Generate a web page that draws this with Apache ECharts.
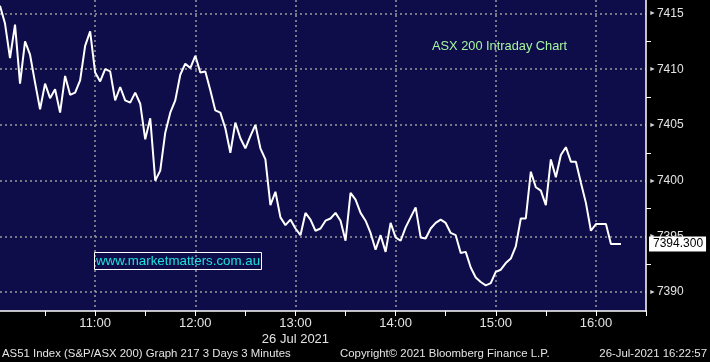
<!DOCTYPE html>
<html><head><meta charset="utf-8">
<script src="https://cdn.jsdelivr.net/npm/echarts@6/dist/echarts.min.js"></script>
<style>html,body{margin:0;padding:0;background:#000;}#c{width:710px;height:362px;}</style>
</head><body><div id="c"></div>
<script>
// ---- data ----
const START_MIN = 10 * 60 + 3;   // first bar 10:03
const STEP_MIN = 3;              // 3-minute bars
const END_MIN = 16 * 60 + 30;    // axis end 16:30
const TIMES = [];
for (let m = START_MIN; m <= END_MIN; m += STEP_MIN) {
  TIMES.push(String(Math.floor(m / 60)).padStart(2, '0') + ':' + String(m % 60).padStart(2, '0'));
}
const HOUR_LABELS = ['11:00', '12:00', '13:00', '14:00', '15:00', '16:00'];
const DATE_LABEL = '26 Jul 2021';
const Y_TICKS = [7390, 7395, 7400, 7405, 7410, 7415];
const Y_MINOR = [7392.5, 7397.5, 7402.5, 7407.5, 7412.5];
const PRICES = [
  7415.7, 7414.1, 7411.0, 7414.0, 7408.7, 7412.5, 7411.3, 7408.8, 7406.4, 7408.7,
  7407.4, 7408.2, 7406.1, 7409.4, 7407.7, 7407.9, 7409.0, 7412.1, 7413.4, 7409.7,
  7408.9, 7410.0, 7409.8, 7407.2, 7408.4, 7407.2, 7407.0, 7407.9, 7406.9, 7403.7,
  7405.6, 7400.0, 7400.9, 7404.3, 7406.1, 7407.2, 7409.5, 7410.5, 7410.1, 7411.2,
  7409.7, 7409.8, 7408.1, 7406.3, 7406.1, 7404.7, 7402.5, 7405.2, 7403.8, 7402.9,
  7404.0, 7405.0, 7402.9, 7401.9, 7397.8, 7399.0, 7396.7, 7396.0, 7396.5, 7395.7,
  7395.1, 7397.1, 7396.5, 7395.5, 7395.7, 7396.4, 7396.6, 7397.1, 7396.4, 7394.6,
  7398.9, 7398.3, 7397.1, 7396.4, 7395.3, 7393.8, 7395.1, 7393.6, 7396.2, 7394.9,
  7394.6, 7395.8, 7396.7, 7397.6, 7394.9, 7394.8, 7395.7, 7396.2, 7396.5, 7396.2,
  7395.3, 7395.1, 7393.5, 7393.6, 7392.2, 7391.3, 7390.9, 7390.6, 7390.8, 7391.8,
  7392.0, 7392.6, 7393.0, 7394.1, 7396.6, 7396.6, 7400.8, 7399.4, 7399.1, 7397.8,
  7401.9, 7400.3, 7402.3, 7403.0, 7401.7, 7401.7, 7399.8, 7398.0, 7395.5, 7396.1,
  7396.1, 7396.1, 7394.3, 7394.3, 7394.3
];
const LAST = PRICES[PRICES.length - 1];
const TITLE = 'ASX 200 Intraday Chart';
const WATERMARK = 'www.marketmatters.com.au';
const FOOT_LEFT = 'AS51 Index (S&P/ASX 200) Graph 217 3 Days 3 Minutes';
const FOOT_MID = 'Copyright\u00A9 2021 Bloomberg Finance L.P.';
const FOOT_RIGHT = '26-Jul-2021 16:22:57';

// ---- layout ----
const W = 710, H = 362;
const PLOT_RIGHT = 646, PLOT_BOTTOM = 311;
const TICK_TOP_Y = 13.5, TICK_BOTTOM_Y = 292;   // pixel rows of 7415 / 7390
const yTop = Y_TICKS[Y_TICKS.length - 1], yBot = Y_TICKS[0];
const pxPerUnit = (TICK_BOTTOM_Y - TICK_TOP_Y) / (yTop - yBot);
const yMaxA = yTop + TICK_TOP_Y / pxPerUnit;
const yMinA = yBot - (PLOT_BOTTOM - TICK_BOTTOM_Y) / pxPerUnit;
const minTop = Y_MINOR[Y_MINOR.length - 1], minBot = Y_MINOR[0];
const MINOR_TOP_Y = TICK_TOP_Y + (yTop - minTop) * pxPerUnit;
const MINOR_BOTTOM_Y = TICK_BOTTOM_Y - (minBot - yBot) * pxPerUnit;

const FONT = "'Liberation Sans', Arial, sans-serif";
const GRID_LINE = { color: '#9a9a9a', width: 1.5, type: [2, 3] };
const TXT = '#e4e4e4';

const chart = echarts.init(document.getElementById('c'));
chart.setOption({
  backgroundColor: '#000',
  animation: false,
  textStyle: { fontFamily: FONT },
  title: [
    { text: TITLE, left: 432, top: 40, padding: 0,
      textStyle: { color: '#a6f5a0', fontSize: 12.8, fontWeight: 'normal', fontFamily: FONT } },
    { text: WATERMARK, left: 94, top: 252, padding: [3, 2, 2, 2], borderColor: '#ffffff', borderWidth: 1,
      textStyle: { color: '#1fe0e0', fontSize: 13.3, fontWeight: 'normal', fontFamily: FONT } },
    { text: FOOT_LEFT, left: 2, top: 348, padding: 0,
      textStyle: { color: TXT, fontSize: 11.4, fontWeight: 'normal', fontFamily: FONT } },
    { text: FOOT_MID, left: 340, top: 348, padding: 0,
      textStyle: { color: TXT, fontSize: 11.4, fontWeight: 'normal', fontFamily: FONT } },
    { text: FOOT_RIGHT, right: 3, top: 348, padding: 0,
      textStyle: { color: TXT, fontSize: 11.4, fontWeight: 'normal', fontFamily: FONT } }
  ],
  grid: [
    { left: 0, right: W - PLOT_RIGHT, top: 0, bottom: H - PLOT_BOTTOM, show: true,
      backgroundColor: '#0f0d49', borderWidth: 0 },
    { left: 0, right: W - PLOT_RIGHT, top: TICK_TOP_Y, bottom: H - TICK_BOTTOM_Y, show: false },
    { left: 0, right: W - PLOT_RIGHT, top: MINOR_TOP_Y, bottom: H - MINOR_BOTTOM_Y, show: false }
  ],
  xAxis: [
    { type: 'category', gridIndex: 0, data: TIMES, boundaryGap: false,
      axisLine: { onZero: false, lineStyle: { color: '#ffffff', width: 1.5 } },
      axisTick: { interval: (i, v) => v.endsWith(':00') || v.endsWith(':30'), length: 5,
        lineStyle: { color: '#ffffff', width: 1 } },
      axisLabel: { interval: (i, v) => HOUR_LABELS.indexOf(v) >= 0, color: TXT, fontSize: 13,
        margin: 4, lineHeight: 16, fontFamily: FONT,
        formatter: v => v === '13:00' ? v + '\n' + DATE_LABEL : v },
      splitLine: { show: true, interval: (i, v) => HOUR_LABELS.indexOf(v) >= 0, lineStyle: GRID_LINE } },
    { type: 'value', gridIndex: 1, show: false, axisLine: { onZero: false } },
    { type: 'value', gridIndex: 2, show: false, axisLine: { onZero: false } }
  ],
  yAxis: [
    { type: 'value', gridIndex: 0, position: 'right', min: yMinA, max: yMaxA,
      axisLine: { show: true, onZero: false, lineStyle: { color: '#ffffff', width: 1.5 } },
      axisTick: { show: false }, axisLabel: { show: false }, splitLine: { show: false } },
    { type: 'value', gridIndex: 1, position: 'right', min: yBot, max: yTop, interval: 5,
      axisLine: { show: false, onZero: false }, axisTick: { show: false },
      axisLabel: { margin: 3, formatter: v => '{a|\u25BA}{b|' + v + '}',
        rich: { a: { fontSize: 7, color: '#d8d8d8', padding: [0, 1, 0, 0] },
                b: { fontSize: 12, color: TXT, fontFamily: FONT } } },
      splitLine: { show: true, lineStyle: GRID_LINE } },
    { type: 'value', gridIndex: 2, position: 'right', min: minBot, max: minTop, interval: 5,
      axisLine: { show: false, onZero: false },
      axisTick: { show: true, length: 5, lineStyle: { color: '#ffffff', width: 1 } },
      axisLabel: { show: false }, splitLine: { show: false } }
  ],
  series: [{
    type: 'line', xAxisIndex: 0, yAxisIndex: 0, data: PRICES,
    showSymbol: false, symbol: 'none', clip: false,
    lineStyle: { color: '#ffffff', width: 2 },
    markLine: {
      silent: true, symbol: 'none', animation: false,
      lineStyle: { color: 'rgba(0,0,0,0)', width: 0 },
      label: { position: 'end', distance: 3, formatter: () => LAST.toFixed(3),
        backgroundColor: '#ffffff', color: '#000000', fontSize: 12, fontFamily: FONT,
        padding: [2, 3, 1, 4] },
      data: [{ yAxis: LAST }]
    }
  }]
});
</script></body></html>
